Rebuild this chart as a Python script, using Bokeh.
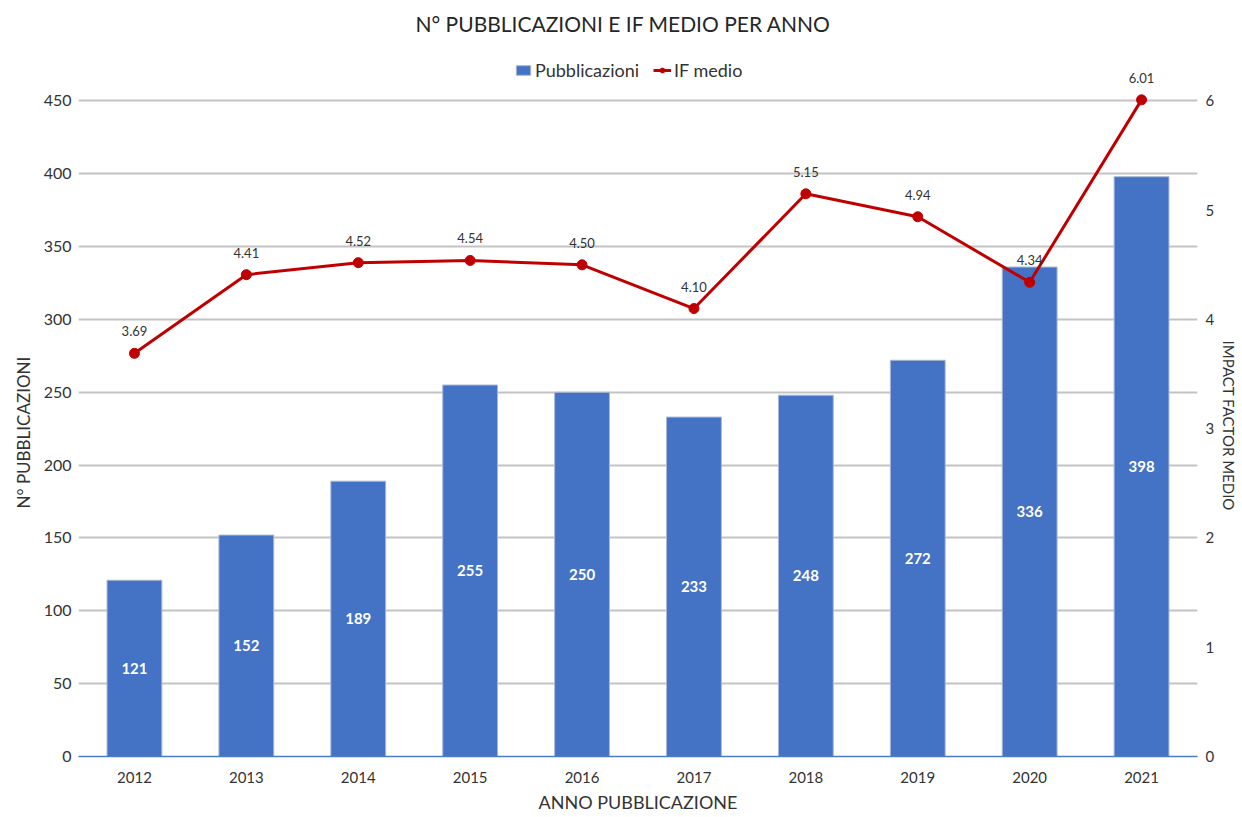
from bokeh.plotting import figure
from bokeh.models import ColumnDataSource, Range1d, LinearAxis, FixedTicker, Legend, LegendItem, Title
from bokeh.core.properties import value
from bokeh.embed import file_html
from bokeh.resources import INLINE

years = ["2012", "2013", "2014", "2015", "2016", "2017", "2018", "2019", "2020", "2021"]
pubblicazioni = [121, 152, 189, 255, 250, 233, 248, 272, 336, 398]
if_medio = [3.69, 4.41, 4.52, 4.54, 4.50, 4.10, 5.15, 4.94, 4.34, 6.01]
left_ticks = [0, 50, 100, 150, 200, 250, 300, 350, 400, 450]
right_ticks = [0, 1, 2, 3, 4, 5, 6]

FONT = "Lato"
TXT = "#333333"
Y_TOP = 491.5          # visible headroom above the 450 gridline
IF_PER_PUB = 1 / 75    # right axis: 6 IF <-> 450 pubblicazioni

src = ColumnDataSource(dict(
    year=years,
    pubs=pubblicazioni,
    half=[v / 2 for v in pubblicazioni],
    pubs_txt=[str(v) for v in pubblicazioni],
    ifm=if_medio,
    if_txt=["%.2f" % v for v in if_medio],
))

p = figure(x_range=years, y_range=Range1d(0, Y_TOP), width=1242, height=817,
           output_backend="svg", toolbar_location=None,
           min_border_left=78, min_border_right=45, min_border_top=40, min_border_bottom=61,
           title="N° PUBBLICAZIONI E IF MEDIO PER ANNO")
p.extra_y_ranges = {"if": Range1d(0, Y_TOP * IF_PER_PUB)}
p.outline_line_color = None
p.background_fill_color = "white"
p.border_fill_color = "white"

p.title.align = "left"
p.title.offset = 337
p.title.text_font = FONT
p.title.text_font_size = "21px"
p.title.text_font_style = "normal"
p.title.text_color = "#262626"
p.title.standoff = 9

bars = p.vbar(x="year", top="pubs", width=0.49, source=src,
              fill_color="#4472C4", line_color="#aab8d4", line_width=1)
p.text(x="year", y="half", text="pubs_txt", source=src,
       text_color="white", text_font=value(FONT), text_font_size="15px",
       text_font_style="bold", text_align="center", text_baseline="middle")

line = p.line(x="year", y="ifm", source=src, y_range_name="if",
              line_color="#C00000", line_width=3)
pts = p.scatter(x="year", y="ifm", source=src, y_range_name="if",
                size=10, fill_color="#C00000", line_color="#C00000")
p.text(x="year", y="ifm", text="if_txt", source=src, y_range_name="if",
       y_offset=-22, text_color=TXT, text_font=value(FONT), text_font_size="13px",
       text_align="center", text_baseline="middle")

# left axis
p.yaxis.ticker = FixedTicker(ticks=left_ticks)
p.yaxis.axis_line_color = None
p.yaxis.major_tick_line_color = None
p.yaxis.major_tick_out = 0
p.yaxis.major_tick_in = 0
p.yaxis.minor_tick_line_color = None
p.yaxis.major_label_standoff = 7
p.yaxis.major_label_text_font = FONT
p.yaxis.major_label_text_font_size = "16px"
p.yaxis.major_label_text_color = TXT

left_title = Title(text="N° PUBBLICAZIONI", align="left", offset=248, standoff=14,
                   text_font=FONT, text_font_size="17px", text_font_style="normal",
                   text_color=TXT)
p.add_layout(left_title, "left")

# bottom axis
p.xaxis.axis_line_color = "#4a7ebb"
p.xaxis.axis_line_width = 1.5
p.xaxis.major_tick_line_color = None
p.xaxis.major_tick_out = 0
p.xaxis.major_tick_in = 0
p.xaxis.minor_tick_line_color = None
p.xaxis.major_label_standoff = 15
p.xaxis.major_label_text_font = FONT
p.xaxis.major_label_text_font_size = "15px"
p.xaxis.major_label_text_color = TXT
p.xaxis.axis_label = "ANNO PUBBLICAZIONE"
p.xaxis.axis_label_text_font = FONT
p.xaxis.axis_label_text_font_size = "18px"
p.xaxis.axis_label_text_font_style = "normal"
p.xaxis.axis_label_text_color = TXT
p.xaxis.axis_label_standoff = 5

# right axis
right = LinearAxis(y_range_name="if", ticker=FixedTicker(ticks=right_ticks))
right.axis_line_color = None
right.major_tick_line_color = None
right.major_tick_out = 0
right.major_tick_in = 0
right.minor_tick_line_color = None
right.major_label_standoff = 8
right.major_label_text_font = FONT
right.major_label_text_font_size = "15px"
right.major_label_text_color = TXT
p.add_layout(right, "right")

right_title = Title(text="IMPACT FACTOR MEDIO", align="left", offset=300, standoff=5,
                    text_font=FONT, text_font_size="15px", text_font_style="normal",
                    text_color=TXT)
p.add_layout(right_title, "right")

p.xgrid.grid_line_color = None
p.ygrid.ticker = FixedTicker(ticks=left_ticks[1:])
p.ygrid.grid_line_color = "#c3c3c3"
p.ygrid.grid_line_width = 2

legend = Legend(items=[LegendItem(label="Pubblicazioni", renderers=[bars]),
                       LegendItem(label="IF medio", renderers=[line, pts])],
                location=(436, 675), orientation="horizontal",
                glyph_width=18, glyph_height=12, spacing=14, padding=0, margin=0,
                label_text_font=FONT, label_text_font_size="18px", label_text_color=TXT,
                label_standoff=3, border_line_color=None, background_fill_alpha=0)
p.add_layout(legend)

open("out.html", "w").write(file_html(p, INLINE))
